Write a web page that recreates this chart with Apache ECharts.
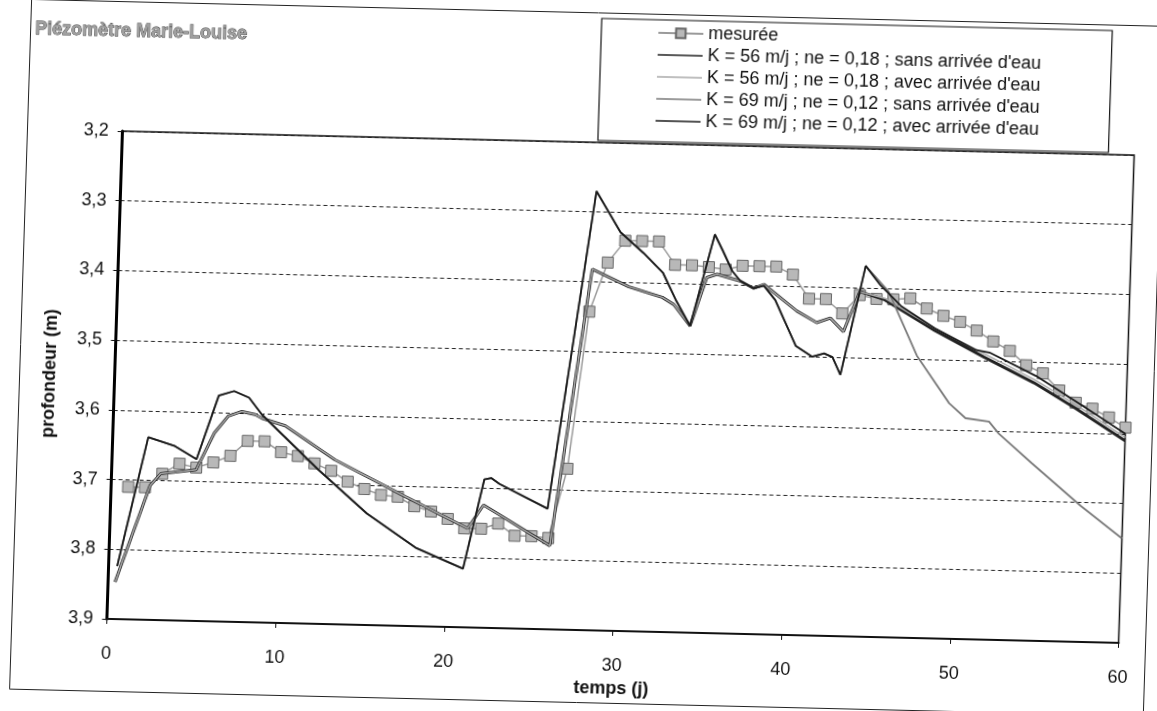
<!DOCTYPE html>
<html>
<head>
<meta charset="utf-8">
<script src="https://cdn.jsdelivr.net/npm/echarts@6/dist/echarts.min.js"></script>
<style>
  html, body { margin: 0; padding: 0; background: #fff; overflow: hidden; }
  #wrap { position: absolute; left: 0; top: 0; width: 1157px; height: 711px;
          transform-origin: 578.5px 355.5px;
          transform: matrix(0.9997, 0.0237, -0.0319, 0.9995, 0, 0); }
  #chart { width: 1157px; height: 711px; }
</style>
</head>
<body>
<div id="wrap"><div id="chart"></div></div>
<script>
// ---------- DATA ----------
const titleText = 'Piézomètre Marie-Louise';
const xAxisName = 'temps (j)';
const yAxisName = 'profondeur (m)';
const seriesNames = [
  'mesurée',
  'K = 56 m/j ; ne = 0,18 ; sans arrivée d\'eau',
  'K = 56 m/j ; ne = 0,18 ; avec arrivée d\'eau',
  'K = 69 m/j ; ne = 0,12 ; sans arrivée d\'eau',
  'K = 69 m/j ; ne = 0,12 ; avec arrivée d\'eau'
];

const measuredDays = [1,2,3,4,5,6,7,8,9,10,11,12,13,14,15,16,17,18,19,20,
  21,22,23,24,25,26,27,28,29,30,31,32,33,34,35,36,37,38,39,40,
  41,42,43,44,45,46,47,48,49,50,51,52,53,54,55,56,57,58,59,60];
const measuredDepth = [3.71,3.71,3.69,3.675,3.68,3.672,3.662,3.64,3.64,3.655,
  3.66,3.67,3.68,3.695,3.705,3.713,3.715,3.728,3.735,3.745,
  3.758,3.758,3.75,3.767,3.767,3.769,3.669,3.443,3.372,3.34,
  3.34,3.34,3.373,3.373,3.375,3.378,3.372,3.372,3.372,3.383,
  3.417,3.417,3.437,3.41,3.415,3.415,3.413,3.427,3.437,3.445,
  3.457,3.472,3.485,3.505,3.516,3.54,3.557,3.565,3.577,3.591];

const k56Days = [0.4,2.3,2.9,5.0,6.0,6.8,7.6,8.4,8.8,10.2,
  13.2,17.5,21.2,22.1,26.1,28.1,30.3,32.3,33.0,34.0,
  34.9,35.5,36.9,37.7,38.3,40.3,41.5,42.3,43.1,44.0,
  45.5,48.5,51.5,54.5,57.0,60.0];
const k56Sans = [3.847,3.707,3.690,3.683,3.630,3.605,3.598,3.602,3.607,3.617,
  3.664,3.715,3.758,3.724,3.780,3.382,3.406,3.420,3.430,3.460,
  3.390,3.385,3.394,3.404,3.398,3.435,3.451,3.444,3.463,3.405,
  3.416,3.458,3.495,3.530,3.565,3.610];
const k56Avec = [3.847,3.707,3.690,3.683,3.630,3.605,3.598,3.602,3.607,3.617,
  3.664,3.715,3.758,3.724,3.780,3.382,3.406,3.420,3.430,3.460,
  3.390,3.385,3.394,3.404,3.398,3.435,3.451,3.444,3.463,3.405,
  3.414,3.455,3.490,3.525,3.560,3.605];

const k69SharedDays = [0.5,2.1,3.7,5.0,6.2,7.1,8.0,8.8,10.5,12.2,
  15.2,18.2,21.0,22.1,22.5,23.0,25.9,28.2,29.7,31.1,
  32.3,33.1,34.0,35.3,35.8,36.4,36.9,37.7,38.3,39.0,
  40.3,41.3,42.0,42.5,43.0,44.3];
const k69SharedDepth = [3.824,3.638,3.650,3.668,3.576,3.569,3.578,3.602,3.640,3.678,
  3.740,3.788,3.816,3.687,3.685,3.693,3.727,3.270,3.328,3.357,
  3.385,3.423,3.460,3.328,3.351,3.380,3.394,3.404,3.400,3.420,
  3.485,3.500,3.495,3.500,3.525,3.368];
const k69SansTailDays = [45.7,47.5,49.5,50.5,51.9,52.5,54.5,57.5,60.0];
const k69SansTailDepth = [3.404,3.495,3.562,3.583,3.587,3.604,3.645,3.705,3.750];
const k69AvecTailDays = [45.2,46.5,48.5,51.0,51.8,54.6,57.0,60.0];
const k69AvecTailDepth = [3.395,3.425,3.455,3.485,3.488,3.520,3.555,3.600];

const xTicks = { min: 0, max: 60, interval: 10 };
const yTicks = { min: 3.2, max: 3.9, interval: 0.1 };

// ---------- BUILD ----------
function pairs(xs, ys) { return xs.map((x, i) => [x, ys[i]]); }
const FONT = '"Liberation Sans", Arial, sans-serif';
const LINE_ICON = 'path://M0,0H45V1.6H0Z';

const chart = echarts.init(document.getElementById('chart'), null, { renderer: 'canvas' });
chart.setOption({
  animation: false,
  backgroundColor: 'transparent',
  textStyle: { fontFamily: FONT },
  title: {
    text: titleText, left: 25, top: 33, padding: 0,
    textStyle: { fontFamily: FONT, fontSize: 18, fontWeight: 'bold', color: '#a0a0a0',
                 textBorderColor: '#333', textBorderWidth: 0.8 }
  },
  graphic: [{
    type: 'rect', left: 18, top: 10, silent: true, z: -10,
    shape: { width: 1134, height: 690 },
    style: { fill: 'none', stroke: '#222', lineWidth: 1 }
  }],
  legend: {
    orient: 'vertical', left: 591, top: 18,
    padding: [4, 70, 12, 56], itemGap: 4, itemWidth: 45, itemHeight: 12,
    symbolKeepAspect: true,
    borderColor: '#111', borderWidth: 1.2, backgroundColor: '#fff',
    textStyle: { fontFamily: FONT, fontSize: 18, color: '#111' },
    data: [
      { name: seriesNames[0] },
      { name: seriesNames[1], icon: LINE_ICON },
      { name: seriesNames[2], icon: LINE_ICON },
      { name: seriesNames[3], icon: LINE_ICON },
      { name: seriesNames[4], icon: LINE_ICON }
    ]
  },
  grid: {
    left: 115.7, right: 29.5, top: 142, bottom: 81,
    show: true, borderColor: '#111', borderWidth: 1.5, backgroundColor: 'transparent'
  },
  xAxis: {
    type: 'value', min: xTicks.min, max: xTicks.max, interval: xTicks.interval,
    name: xAxisName, nameLocation: 'middle', nameGap: 48,
    nameTextStyle: { fontFamily: FONT, fontSize: 18, fontWeight: 'bold', color: '#111' },
    axisLine: { show: true, onZero: false, lineStyle: { color: '#111', width: 2 } },
    axisTick: { show: true, inside: false, length: 5, lineStyle: { color: '#111' } },
    axisLabel: { fontFamily: FONT, fontSize: 18, color: '#111', margin: 26 },
    splitLine: { show: false }
  },
  yAxis: {
    type: 'value', inverse: true, min: yTicks.min, max: yTicks.max, interval: yTicks.interval,
    name: yAxisName, nameLocation: 'middle', nameGap: 56, nameRotate: 90,
    nameTextStyle: { fontFamily: FONT, fontSize: 18, fontWeight: 'bold', color: '#111' },
    axisLine: { show: true, onZero: false, lineStyle: { color: '#000', width: 3 } },
    axisTick: { show: true, inside: false, length: 5, lineStyle: { color: '#111' } },
    axisLabel: { fontFamily: FONT, fontSize: 18, color: '#111', margin: 14,
                 formatter: v => v.toFixed(1).replace('.', ',') },
    splitLine: { show: true, lineStyle: { color: '#222', width: 1, type: [4, 3] } }
  },
  series: [
    {
      name: seriesNames[0], type: 'line', data: pairs(measuredDays, measuredDepth),
      symbol: 'rect', symbolSize: 11, showAllSymbol: true,
      lineStyle: { color: '#9a9a9a', width: 1.5 },
      itemStyle: { color: '#b8b8b8', borderColor: '#666', borderWidth: 1 }, z: 2
    },
    {
      name: seriesNames[1], type: 'line', data: pairs(k56Days, k56Sans),
      symbol: 'none', lineStyle: { color: '#222', width: 3 },
      itemStyle: { color: '#222' }, z: 3
    },
    {
      name: seriesNames[2], type: 'line', data: pairs(k56Days, k56Avec),
      symbol: 'none', lineStyle: { color: '#aaa', width: 1.5 },
      itemStyle: { color: '#aaa' }, z: 3
    },
    {
      name: seriesNames[3], type: 'line',
      data: pairs(k69SharedDays.concat(k69SansTailDays), k69SharedDepth.concat(k69SansTailDepth)),
      symbol: 'none', lineStyle: { color: '#7a7a7a', width: 1.8 },
      itemStyle: { color: '#7a7a7a' }, z: 3
    },
    {
      name: seriesNames[4], type: 'line',
      data: pairs(k69SharedDays.concat(k69AvecTailDays), k69SharedDepth.concat(k69AvecTailDepth)),
      symbol: 'none', lineStyle: { color: '#1a1a1a', width: 1.8 },
      itemStyle: { color: '#1a1a1a' }, z: 3
    }
  ]
});
</script>
</body>
</html>
